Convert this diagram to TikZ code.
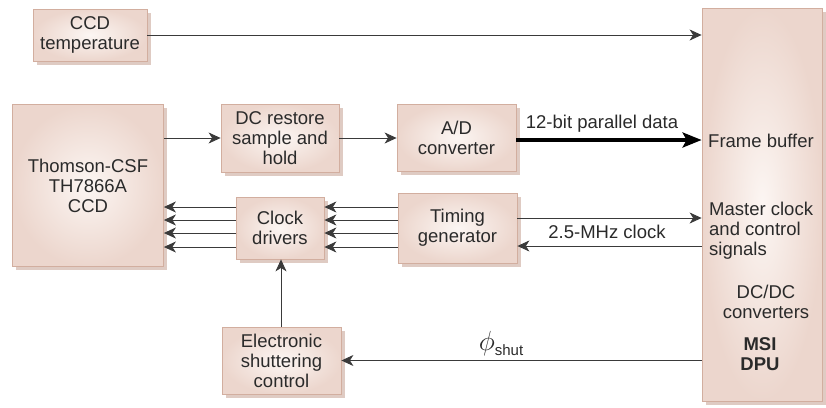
\documentclass[tikz,border=0pt]{standalone}
\usepackage{fontspec}
\usepackage{graphicx}
\setmainfont{Liberation Sans}
\usetikzlibrary{arrows.meta,shadows,calc}
\definecolor{boxedge}{HTML}{D2AE9F}
\definecolor{boxout}{HTML}{ECD6CD}
\definecolor{boxin}{HTML}{FCF6F3}
\definecolor{shad}{HTML}{DFCBC3}
\definecolor{ink}{HTML}{2A2A2A}
\definecolor{wire}{HTML}{3A3A3A}
\tikzset{
  blk/.style={draw=boxedge, line width=0.8pt, shading=radial, inner color=boxin, outer color=boxout,
    drop shadow={shadow xshift=3.5pt,shadow yshift=-3.5pt,fill=shad,opacity=1,draw=none},
    align=center, inner sep=0pt, text=ink,
    font=\fontsize{18.5pt}{20pt}\selectfont},
  lbl/.style={text=ink, inner sep=0pt, font=\fontsize{18.5pt}{20pt}\selectfont},
  wirea/.style={draw=wire, line width=0.9pt, -{Stealth[length=12pt,width=11pt,inset=3.5pt]}},
  bus/.style={draw=black, line width=3.5pt, -{Stealth[length=19pt,width=15pt,inset=4pt]}},
}
\begin{document}
\begin{tikzpicture}[x=1pt,y=-1pt]
\useasboundingbox (0,0) rectangle (826,407);
% boxes
\node[blk, minimum width=114pt, minimum height=52pt] (temp) at (90,35) {CCD\\temperature};
\node[blk, minimum width=151pt, minimum height=162pt] (ccd) at (88,185.5) {Thomson-CSF\\TH7866A\\CCD};
\node[blk, minimum width=118pt, minimum height=68pt] (dc) at (280,138) {DC restore\\sample and\\hold};
\node[blk, minimum width=119pt, minimum height=67pt] (ad) at (456.5,137.5) {A/D\\converter};
\node[blk, minimum width=120pt, minimum height=393pt] (dpu) at (762,204.5) {};
\node[blk, minimum width=88pt, minimum height=62pt] (clk) at (280,228) {Clock\\drivers};
\node[blk, minimum width=119pt, minimum height=70pt] (tim) at (457.5,228) {Timing\\generator};
\node[blk, minimum width=119pt, minimum height=67pt] (esc) at (281.5,360.5) {Electronic\\shuttering\\control};
% texts inside DPU
\node[lbl, anchor=west] (fb) at (708,141) {Frame buffer};
\node[lbl, anchor=west, align=left] (mc) at (709,231) {Master clock\\and control\\signals};
\node[lbl, align=center] (dcdc) at (766,302) {DC/DC\\converters};
\node[lbl, align=center, font=\fontsize{18.5pt}{20pt}\selectfont\bfseries] (msi) at (760,354) {MSI\\DPU};
% connectors
\draw[wirea] (temp.east) -- (temp.east -| dpu.west);
\draw[wirea] (ccd.east |- dc.west) -- (dc.west);
\draw[wirea] (dc.east) -- (dc.east -| ad.west);
\draw[bus] (ad.east |- 0,140) -- (dpu.west |- 0,140);
\node[lbl] (pd) at (602,124) {12-bit parallel data};
\foreach \yy in {207,220,233,247}{
  \draw[wirea] (clk.west |- 0,\yy) -- (ccd.east |- 0,\yy);
  \draw[wirea] (tim.west |- 0,\yy) -- (clk.east |- 0,\yy);
}
\draw[wirea] (tim.east |- 0,218) -- (dpu.west |- 0,218);
\draw[wirea] (dpu.west |- 0,246) -- (tim.east |- 0,246);
\node[lbl] (mhz) at (607,232) {2.5-MHz clock};
\draw[wirea] (esc.north -| 281,0) -- (clk.south -| 281,0);
\draw[wirea] (dpu.west |- esc.east) -- (esc.east);
\node[lbl] (phi) at (501,344) {\scalebox{1.6}{$\phi$}\raisebox{-5pt}{\fontsize{15pt}{16pt}\selectfont shut}};
\end{tikzpicture}
\end{document}
